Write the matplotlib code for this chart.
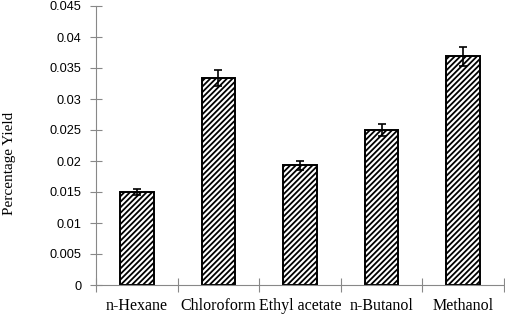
import matplotlib
matplotlib.use("Agg")
import matplotlib.pyplot as plt
import numpy as np

categories = ["n-Hexane", "Chloroform", "Ethyl acetate", "n-Butanol", "Methanol"]
values = [0.0150, 0.0334, 0.0193, 0.0250, 0.0369]
errors = [0.0005, 0.0013, 0.0007, 0.0010, 0.0015]
yticks = [0, 0.005, 0.01, 0.015, 0.02, 0.025, 0.03, 0.035, 0.04, 0.045]
ytick_labels = ["0", "0.005", "0.01", "0.015", "0.02", "0.025", "0.03", "0.035", "0.04", "0.045"]

plt.rcParams['hatch.linewidth'] = 1.3
fig = plt.figure(figsize=(5.05, 3.18), dpi=100)
ax = fig.add_axes([96/505, 1-285/318, 408/505, 279/318])

x = np.arange(len(categories))
ax.bar(x, values, width=0.41, color="white", edgecolor="black", linewidth=1.4,
       hatch="//////", zorder=2)
ax.errorbar(x, values, yerr=errors, fmt="none", ecolor="black", elinewidth=1.2,
            capsize=3, capthick=1.2, zorder=3)

ax.set_xlim(-0.5, len(categories) - 0.5)
ax.set_ylim(0, 0.045)
ax.set_yticks(yticks)
ax.set_yticklabels(ytick_labels, fontfamily="Liberation Sans", fontsize=9.2)
ax.set_xticks(x)
ax.set_xticklabels(categories, fontfamily="Liberation Serif", fontsize=11.5)
ax.set_xticks(np.arange(len(categories) + 1) - 0.5, minor=True)
ax.tick_params(axis="x", which="major", length=0, pad=9)
ax.tick_params(axis="x", which="minor", direction="inout", length=10, color="#888888", width=0.8)
ax.tick_params(axis="y", direction="inout", length=8, color="#888888", width=0.8, pad=6.5)

for s in ["top", "right"]:
    ax.spines[s].set_visible(False)
for s in ["left", "bottom"]:
    ax.spines[s].set_color("#888888")
    ax.spines[s].set_linewidth(0.8)

ax.set_ylabel("Percentage Yield", fontfamily="Liberation Serif", fontsize=11)
ax.yaxis.set_label_coords(-0.196, 0.437)

fig.savefig("out.png", dpi=100)
